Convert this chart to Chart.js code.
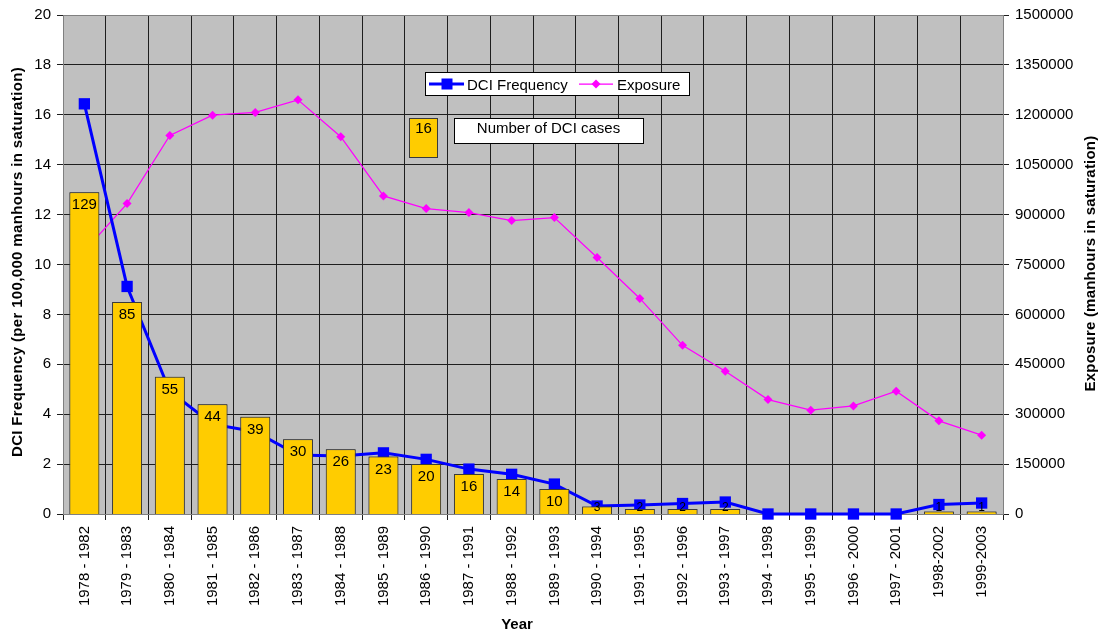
<!DOCTYPE html>
<html>
<head>
<meta charset="utf-8">
<title>DCI Frequency and Exposure</title>
<script src="https://cdn.jsdelivr.net/npm/chart.js@4.4.1/dist/chart.umd.min.js"></script>
<style>
  html, body { margin: 0; padding: 0; background: #ffffff; }
  #wrap { position: relative; width: 1106px; height: 637px; }
</style>
</head>
<body>
<div id="wrap"><canvas id="chart"></canvas></div>
<script>
// Five-year rolling periods
const periods = [
  '1978 - 1982', '1979 - 1983', '1980 - 1984', '1981 - 1985', '1982 - 1986',
  '1983 - 1987', '1984 - 1988', '1985 - 1989', '1986 - 1990', '1987 - 1991',
  '1988 - 1992', '1989 - 1993', '1990 - 1994', '1991 - 1995', '1992 - 1996',
  '1993 - 1997', '1994 - 1998', '1995 - 1999', '1996 - 2000', '1997 - 2001',
  '1998-2002', '1999-2003'
];

// Number of DCI cases per period
const dciCases = [129, 85, 55, 44, 39, 30, 26, 23, 20, 16, 14, 10, 3, 2, 2, 2, 0, 0, 0, 0, 1, 1];

// DCI frequency per 100,000 manhours in saturation
const dciFrequency = [16.44, 9.12, 4.92, 3.6, 3.3, 2.36, 2.32, 2.45, 2.19, 1.8, 1.59, 1.2,
  0.32, 0.36, 0.42, 0.48, 0, 0, 0, 0, 0.38, 0.44];

// Exposure, manhours in saturation
const exposure = [790000, 933000, 1138000, 1199000, 1207000, 1245000, 1134000, 956000,
  918000, 906000, 882000, 891000, 771000, 648000, 507000, 429000, 344000, 312000,
  325000, 369000, 280000, 237000];

// Axis tick settings
const freqMax = 20, freqStep = 2;
const exposureMax = 1500000, exposureStep = 150000;
const casesMax = 200;

const FONT = "'Liberation Sans', Arial, Helvetica, sans-serif";
const GRID = '#1e1e1e';
const FRAME = '#808080';
const BAR_FILL = '#FFCC00';
const BAR_EDGE = '#3a3a3a';
const BLUE = '#0000FF';
const MAGENTA = '#FF00FF';

// Grey plot background
const plotBackground = {
  id: 'plotBackground',
  beforeDraw(chart) {
    const { ctx, chartArea: a } = chart;
    ctx.save();
    ctx.fillStyle = '#C0C0C0';
    ctx.fillRect(a.left, a.top, a.right - a.left, a.bottom - a.top);
    ctx.restore();
  }
};

// Bars sit above both lines; case counts are written inside the top of each bar
const barLabels = {
  id: 'barLabels',
  afterDatasetsDraw(chart) {
    const { ctx, chartArea: a } = chart;
    const meta = chart.getDatasetMeta(0);
    ctx.save();
    ctx.beginPath();
    ctx.rect(a.left, a.top, a.right - a.left, a.bottom - a.top);
    ctx.clip();
    meta.data.forEach((bar, i) => { if (dciCases[i]) bar.draw(ctx); });
    ctx.fillStyle = '#000';
    ctx.textAlign = 'center';
    ctx.textBaseline = 'alphabetic';
    meta.data.forEach((bar, i) => {
      const v = dciCases[i];
      if (!v) return;
      const small = v < 10;
      ctx.font = (small ? '12px ' : '15px ') + FONT;
      const y = Math.min(bar.y + 17, a.bottom - 3);
      ctx.fillText(String(v), bar.x, y);
    });
    ctx.restore();
  }
};

// Legend boxes and axis titles
const annotations = {
  id: 'annotations',
  afterDraw(chart) {
    const { ctx } = chart;
    ctx.save();

    // series legend
    ctx.fillStyle = '#fff';
    ctx.fillRect(425.5, 72.5, 264, 23);
    ctx.strokeStyle = '#000';
    ctx.lineWidth = 1;
    ctx.strokeRect(425.5, 72.5, 264, 23);

    ctx.strokeStyle = BLUE;
    ctx.lineWidth = 3;
    ctx.beginPath(); ctx.moveTo(429, 84); ctx.lineTo(464, 84); ctx.stroke();
    ctx.fillStyle = BLUE;
    ctx.fillRect(441.5, 78.5, 11, 11);

    ctx.strokeStyle = MAGENTA;
    ctx.lineWidth = 1.25;
    ctx.beginPath(); ctx.moveTo(579, 84); ctx.lineTo(613, 84); ctx.stroke();
    ctx.fillStyle = MAGENTA;
    ctx.beginPath();
    ctx.moveTo(596, 79.5); ctx.lineTo(600.5, 84); ctx.lineTo(596, 88.5); ctx.lineTo(591.5, 84);
    ctx.closePath(); ctx.fill();

    ctx.fillStyle = '#000';
    ctx.font = '15px ' + FONT;
    ctx.textAlign = 'left';
    ctx.textBaseline = 'alphabetic';
    ctx.fillText('DCI Frequency', 467, 90);
    ctx.fillText('Exposure', 617, 90);

    // bar key
    ctx.fillStyle = BAR_FILL;
    ctx.fillRect(409.5, 118.5, 28, 39);
    ctx.strokeStyle = BAR_EDGE;
    ctx.lineWidth = 1;
    ctx.strokeRect(409.5, 118.5, 28, 39);
    ctx.fillStyle = '#000';
    ctx.textAlign = 'center';
    ctx.fillText('16', 423.5, 133);

    ctx.fillStyle = '#fff';
    ctx.fillRect(454.5, 118.5, 189, 25);
    ctx.strokeStyle = '#000';
    ctx.strokeRect(454.5, 118.5, 189, 25);
    ctx.fillStyle = '#000';
    ctx.fillText('Number of DCI cases', 548.5, 133);

    // axis titles
    ctx.font = 'bold 15px ' + FONT;
    ctx.textAlign = 'center';
    ctx.textBaseline = 'middle';
    if ('letterSpacing' in ctx) ctx.letterSpacing = '0.35px';
    ctx.save();
    ctx.translate(18, 262);
    ctx.rotate(-Math.PI / 2);
    ctx.fillText('DCI Frequency (per 100,000 manhours in saturation)', 0, 0);
    ctx.restore();

    if ('letterSpacing' in ctx) ctx.letterSpacing = '0.2px';
    ctx.save();
    ctx.translate(1091, 263.5);
    ctx.rotate(-Math.PI / 2);
    ctx.fillText('Exposure (manhours in saturation)', 0, 0);
    ctx.restore();

    if ('letterSpacing' in ctx) ctx.letterSpacing = '0px';
    ctx.fillText('Year', 517, 625);
    ctx.restore();
  }
};

new Chart(document.getElementById('chart'), {
  type: 'bar',
  data: {
    labels: periods,
    datasets: [
      {
        label: 'Number of DCI cases',
        data: dciCases,
        yAxisID: 'yCases',
        backgroundColor: BAR_FILL,
        borderColor: BAR_EDGE,
        borderWidth: 1,
        barPercentage: 0.7,
        categoryPercentage: 1.0,
        order: 0
      },
      {
        type: 'line',
        label: 'DCI Frequency',
        data: dciFrequency,
        yAxisID: 'y',
        borderColor: BLUE,
        borderWidth: 3,
        tension: 0,
        pointStyle: 'rect',
        pointRadius: 8,
        pointBackgroundColor: BLUE,
        pointBorderWidth: 0,
        clip: false,
        order: 1
      },
      {
        type: 'line',
        label: 'Exposure',
        data: exposure,
        yAxisID: 'y2',
        borderColor: MAGENTA,
        borderWidth: 1.25,
        tension: 0,
        pointStyle: 'rectRot',
        pointRadius: 4.5,
        pointBackgroundColor: MAGENTA,
        pointBorderWidth: 0,
        order: 2
      }
    ]
  },
  options: {
    responsive: true,
    maintainAspectRatio: false,
    animation: false,
    devicePixelRatio: 1,
    layout: { padding: { top: 14, left: 0, right: 0, bottom: 0 } },
    plugins: {
      legend: { display: false },
      tooltip: { enabled: false }
    },
    scales: {
      x: {
        offset: true,
        grid: {
          offset: true,
          color: GRID,
          tickColor: GRID,
          tickLength: 6,
          drawOnChartArea: true
        },
        border: { color: FRAME, width: 1 },
        ticks: {
          color: '#000',
          font: { family: FONT, size: 15 },
          minRotation: 90,
          maxRotation: 90,
          autoSkip: false,
          padding: 6
        },
        afterFit(scale) { scale.height = 123; }
      },
      y: {
        position: 'left',
        min: 0,
        max: freqMax,
        grid: {
          color: (c) => (c.tick && c.tick.value === freqMax ? FRAME : GRID),
          tickColor: GRID,
          tickLength: 6
        },
        border: { color: FRAME, width: 1 },
        ticks: {
          stepSize: freqStep,
          color: '#000',
          font: { family: FONT, size: 15 },
          padding: 6,
          callback: (v) => String(v)
        },
        afterFit(scale) { scale.width = 63; }
      },
      y2: {
        position: 'right',
        min: 0,
        max: exposureMax,
        grid: {
          drawOnChartArea: false,
          tickColor: GRID,
          tickLength: 6
        },
        border: { color: FRAME, width: 1 },
        ticks: {
          stepSize: exposureStep,
          color: '#000',
          font: { family: FONT, size: 15 },
          padding: 6,
          callback: (v) => String(v)
        },
        afterFit(scale) { scale.width = 103; }
      },
      yCases: {
        display: false,
        min: 0,
        max: casesMax
      }
    }
  },
  plugins: [plotBackground, barLabels, annotations]
});
</script>
</body>
</html>
